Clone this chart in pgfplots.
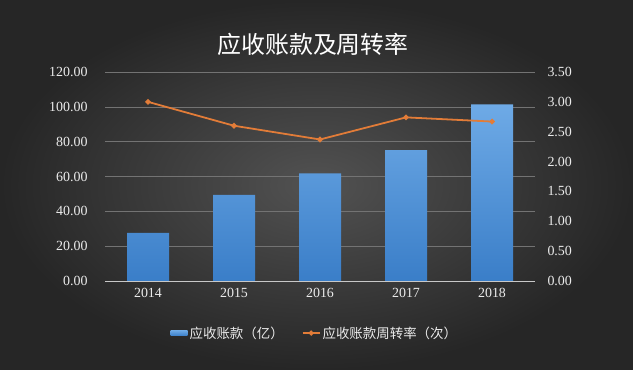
\documentclass[border=0pt]{standalone}
\usepackage{pgfplots}
\pgfplotsset{compat=1.18}
\usepackage{fontspec}
\setmainfont{Liberation Serif}
\newfontfamily\cjk{Noto Sans CJK SC}
\definecolor{bgin}{RGB}{82,82,82}
\definecolor{bgout}{RGB}{38,38,38}
\definecolor{bartop}{RGB}{110,170,230}
\definecolor{barbot}{RGB}{58,126,200}
\definecolor{lineor}{RGB}{226,124,56}
\definecolor{gridc}{RGB}{115,115,115}
\definecolor{axc}{RGB}{200,200,200}
\definecolor{txt}{RGB}{235,235,235}
\begin{document}
\begin{tikzpicture}
\useasboundingbox (0,0) rectangle (633bp,370bp);
\shade[inner color=bgin, outer color=bgout] (0,0) rectangle (633bp,370bp);
\node[text=white, font=\cjk\fontsize{24}{24}\selectfont] at (313bp,326bp) {应收账款及周转率};
\begin{axis}[
  scale only axis, width=430bp, height=209bp,
  at={(105bp,89bp)}, anchor=south west,
  xmin=-0.5, xmax=4.5, ymin=0, ymax=120,
  xtick=data, xticklabels={2014,2015,2016,2017,2018},
  ytick={0,20,...,120},
  axis x line*=bottom, axis y line*=left,
  axis line style={-},
  y axis line style={draw=none},
  x axis line style={draw=axc, line width=0.9pt},
  tick style={draw=none},
  ymajorgrids, grid style={draw=gridc, line width=0.5pt},
  /pgf/number format/assume math mode=true,
  yticklabel={\pgfmathprintnumber[fixed,fixed zerofill,precision=2]{\tick}},
  ticklabel style={text=txt, font=\fontsize{14}{14}\selectfont},
  yticklabel style={xshift=-14bp},
  xticklabel style={yshift=-4bp},
  legend style={at={(0.488,-0.249)}, anchor=center, draw=none, fill=none,
    text=txt, font=\cjk\fontsize{13.5}{14}\selectfont, legend columns=2,
    /tikz/every even column/.append style={column sep=16bp}},
  legend image code/.code={\fill[#1] (0cm,-0.1cm) rectangle (0.6cm,0.1cm);},
]
\addplot[ybar, bar width=42bp, draw=none, top color=bartop, bottom color=barbot]
  coordinates {(0,27.7) (1,49.4) (2,61.8) (3,75.2) (4,101.4)};
\addlegendentry{应收账款（亿）}
\addlegendimage{line legend, lineor, line width=1.8pt, mark=*, mark size=1.6pt, mark options={fill=lineor}}
\addlegendentry{应收账款周转率（次）}
\end{axis}
\begin{axis}[
  scale only axis, width=430bp, height=209bp,
  at={(105bp,89bp)}, anchor=south west,
  xmin=-0.5, xmax=4.5, ymin=0, ymax=3.5,
  ytick={0,0.5,1,1.5,2,2.5,3,3.5},
  axis x line=none, axis y line*=right,
  axis line style={draw=none},
  tick style={draw=none},
  /pgf/number format/assume math mode=true,
  yticklabel={\pgfmathprintnumber[fixed,fixed zerofill,precision=2]{\tick}},
  ticklabel style={text=txt, font=\fontsize{14}{14}\selectfont},
  yticklabel style={xshift=9bp},
]
\addplot[lineor, line width=1.8pt, mark=*, mark size=1.8pt, mark options={fill=lineor}]
  coordinates {(0,3.00) (1,2.60) (2,2.37) (3,2.74) (4,2.67)};
\end{axis}
\end{tikzpicture}
\end{document}
